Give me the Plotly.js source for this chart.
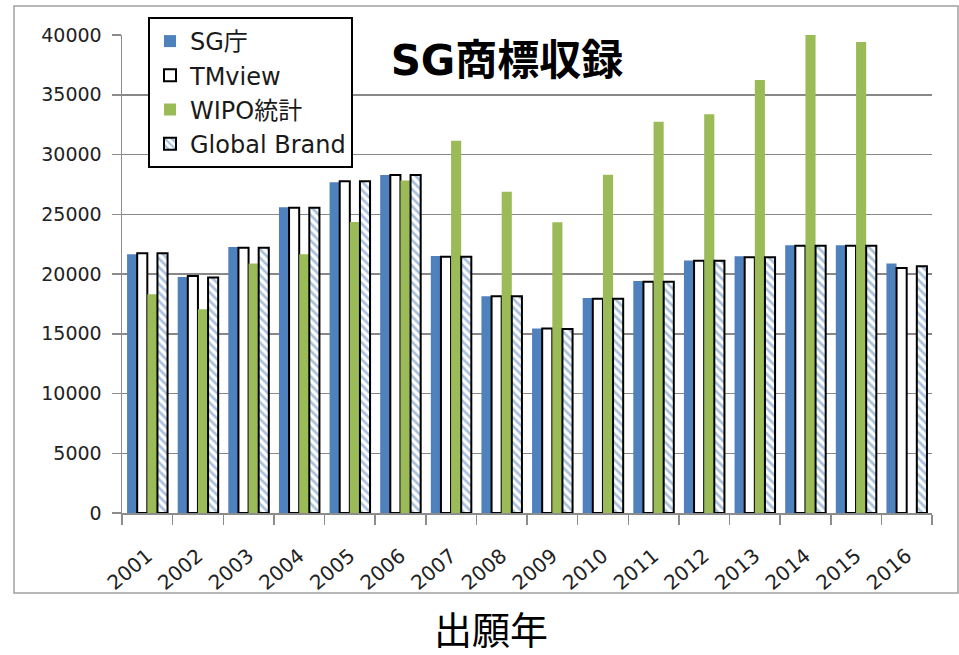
<!DOCTYPE html>
<html>
<head>
<meta charset="utf-8">
<script src="https://cdn.plot.ly/plotly-3.0.1.min.js"></script>
<style>html,body{margin:0;padding:0;background:#fff;}#chart{width:959px;height:655px;}</style>
</head>
<body>
<div id="chart"></div>
<script>
const years = ['2001','2002','2003','2004','2005','2006','2007','2008','2009','2010','2011','2012','2013','2014','2015','2016'];
const sgOffice = [21650,19750,22260,25590,27680,28290,21510,18130,15430,17990,19420,21140,21480,22400,22400,20870];
const tmview   = [21730,19840,22200,25550,27760,28290,21450,18130,15430,17930,19360,21110,21400,22370,22370,20510];
const wipo     = [18300,17050,20870,21650,24360,27820,31160,26890,24330,28310,32750,33370,36240,40000,39420,null];
const globalBrand = [21730,19700,22200,25550,27760,28290,21450,18130,15400,17930,19360,21110,21400,22370,22370,20650];
const seriesNames = ['SG庁','TMview','WIPO統計','Global Brand'];
const yTicks = [0,5000,10000,15000,20000,25000,30000,35000,40000];

const latin = 'DejaVu Sans, Noto Sans CJK JP, sans-serif';
const cjk = 'DejaVu Sans, Noto Sans CJK JP, sans-serif';

const traces = [
  {type:'bar', name:seriesNames[0], x:years, y:sgOffice,
   marker:{color:'#4F81BD', line:{width:0}}},
  {type:'bar', name:seriesNames[1], x:years, y:tmview,
   marker:{color:'#ffffff', line:{color:'#000000', width:2}}},
  {type:'bar', name:seriesNames[2], x:years, y:wipo,
   marker:{color:'#9BBB59', line:{width:0}}},
  {type:'bar', name:seriesNames[3], x:years, y:globalBrand,
   marker:{color:'#ffffff', line:{color:'#000000', width:2},
     pattern:{shape:'\\', fgcolor:'#4F81BD', bgcolor:'#ffffff', size:6, solidity:0.45, fillmode:'overlay'}}}
];

const layout = {
  width:959, height:655,
  margin:{l:122, r:27, t:35, b:142},
  paper_bgcolor:'#ffffff', plot_bgcolor:'#ffffff',
  barmode:'group', bargap:0.2, bargroupgap:0,
  showlegend:true,
  title:{text:'<b>SG商標収録</b>', font:{family:cjk, size:42, color:'#000'},
    x:507/959, xanchor:'center', y:1-60/655, yanchor:'middle', xref:'container', yref:'container'},
  legend:{x:(148-122)/810, y:(513-17)/478, xanchor:'left', yanchor:'top',
    bgcolor:'#ffffff', bordercolor:'#000000', borderwidth:2,
    font:{family:latin, size:24, color:'#1a1a1a'}, traceorder:'normal'},
  xaxis:{type:'category', showline:true, linecolor:'#8c8c8c', linewidth:1.5,
    ticks:'outside', tickson:'boundaries', ticklen:10, tickcolor:'#8c8c8c', tickwidth:1.5,
    tickangle:-40, tickfont:{family:latin, size:20, color:'#222'}, ticklabelstandoff:22,
    showgrid:false, zeroline:false},
  yaxis:{range:[0,40000], tickvals:yTicks, ticktext:yTicks.map(String),
    showline:true, linecolor:'#8c8c8c', linewidth:1.5,
    ticks:'outside', ticklen:9, tickcolor:'#8c8c8c', tickwidth:1.5,
    showgrid:true, gridcolor:'#888888', gridwidth:1.5, zeroline:false,
    tickfont:{family:latin, size:19, color:'#222'}, ticklabelstandoff:6},
  shapes:[{type:'rect', xref:'paper', yref:'paper',
    x0:(14-122)/810, x1:(958-122)/810, y0:(513-593)/478, y1:(513-6)/478,
    line:{color:'#a0a0a0', width:1.5}, fillcolor:'rgba(0,0,0,0)', layer:'below'}],
  annotations:[{text:'出願年', xref:'paper', yref:'paper',
    x:(491-122)/810, y:(513-631)/478, xanchor:'center', yanchor:'middle', showarrow:false,
    font:{family:cjk, size:38, color:'#000'}}]
};

Plotly.newPlot('chart', traces, layout, {displayModeBar:false, staticPlot:true});
</script>
</body>
</html>
